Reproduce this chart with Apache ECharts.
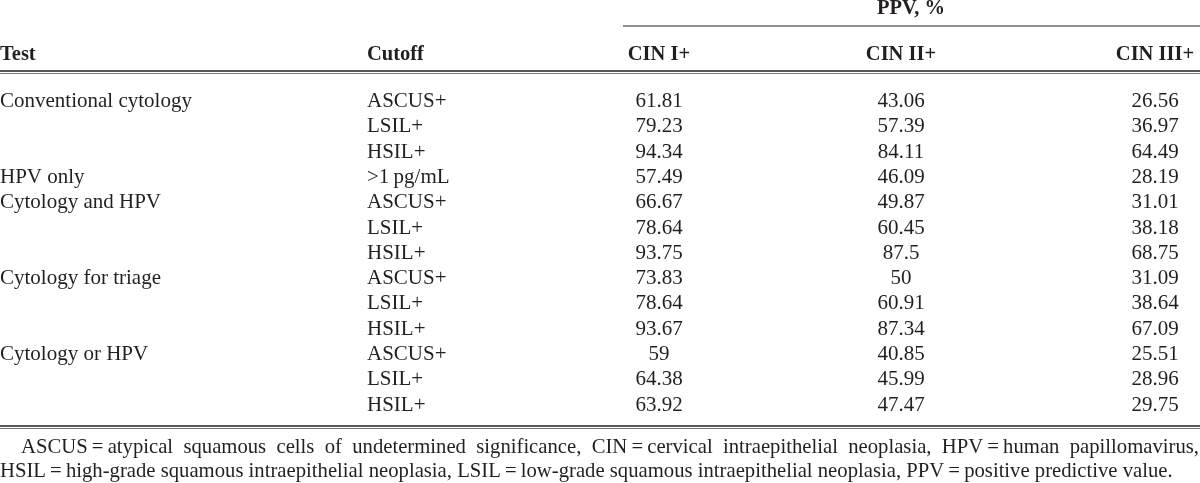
<!DOCTYPE html>
<html><head><meta charset="utf-8">
<script src="https://cdn.jsdelivr.net/npm/echarts@6/dist/echarts.min.js"></script>
<style>html,body{margin:0;padding:0;background:#fff}#c{width:1200px;height:483px}</style>
</head><body><div id="c"></div>
<script>
// ---- data ----
const tests = ['Conventional cytology','','','HPV only','Cytology and HPV','','','Cytology for triage','','','Cytology or HPV','',''];
const cutoffs = ['ASCUS+','LSIL+','HSIL+','>1\u2009pg/mL','ASCUS+','LSIL+','HSIL+','ASCUS+','LSIL+','HSIL+','ASCUS+','LSIL+','HSIL+'];
const cin1 = [61.81,79.23,94.34,57.49,66.67,78.64,93.75,73.83,78.64,93.67,59,64.38,63.92];
const cin2 = [43.06,57.39,84.11,46.09,49.87,60.45,87.5,50,60.91,87.34,40.85,45.99,47.47];
const cin3 = [26.56,36.97,64.49,28.19,31.01,38.18,68.75,31.09,38.64,67.09,25.51,28.96,29.75];
const headers = ['Test','Cutoff','CIN I+','CIN II+','CIN III+'];
const groupHeader = 'PPV, %';
const footnote1 = 'ASCUS\u2009=\u2009atypical squamous cells of undetermined significance, CIN\u2009=\u2009cervical intraepithelial neoplasia, HPV\u2009=\u2009human papillomavirus,';
const footnote2 = 'HSIL\u2009=\u2009high-grade squamous intraepithelial neoplasia, LSIL\u2009=\u2009low-grade squamous intraepithelial neoplasia, PPV\u2009=\u2009positive predictive value.';

// ---- layout / style ----
const FONT = '"Liberation Serif","Times New Roman",serif';
const BODY = '21px ' + FONT;
const BOLD = 'bold 20.5px ' + FONT;
const NOTE = '20.7px ' + FONT;
const INK = '#231f20';
const cols = [
  {x: 0, align: 'left'},
  {x: 367, align: 'left'},
  {x: 659, align: 'center'},
  {x: 901, align: 'center'},
  {x: 1155, align: 'center'}
];
const rowIdx = cutoffs.map((_, i) => i);
const columns = [tests, cutoffs, cin1.map(String), cin2.map(String), cin3.map(String)];

const chart = echarts.init(document.getElementById('c'), null, {renderer: 'canvas'});

const series = columns.map((col, ci) => ({
  type: 'custom',
  coordinateSystem: 'cartesian2d',
  data: col.map((t, i) => [cols[ci].x, i, t]),
  renderItem: (params, api) => {
    const p = api.coord([api.value(0), api.value(1)]);
    return {type: 'text', x: p[0], y: p[1],
      style: {text: col[params.dataIndex], font: BODY, fill: INK, align: cols[ci].align, verticalAlign: 'middle'}};
  },
  silent: true
}));

// justified footnote line
const cv = document.createElement('canvas').getContext('2d');
function justify(text, x0, x1, y, font) {
  cv.font = font;
  const words = text.split(' ');
  const total = words.reduce((s, w) => s + cv.measureText(w).width, 0);
  const gap = (x1 - x0 - total) / (words.length - 1);
  let x = x0; const out = [];
  words.forEach(w => {
    out.push({type: 'text', x: x, y: y, style: {text: w, font: font, fill: INK, align: 'left', verticalAlign: 'middle'}});
    x += cv.measureText(w).width + gap;
  });
  return out;
}

const hY = 55;
const graphics = [
  {type: 'text', x: 911, y: 9, style: {text: groupHeader, font: BOLD, fill: INK, align: 'center', verticalAlign: 'middle'}},
  {type: 'line', shape: {x1: 623, y1: 26, x2: 1200, y2: 26}, style: {stroke: INK, lineWidth: 1.2}},
  ...headers.map((h, i) => ({type: 'text', x: cols[i].x, y: hY, style: {text: h, font: BOLD, fill: INK, align: cols[i].align, verticalAlign: 'middle'}})),
  {type: 'line', shape: {x1: 0, y1: 71, x2: 1200, y2: 71}, style: {stroke: INK, lineWidth: 1.5}},
  {type: 'line', shape: {x1: 0, y1: 73.5, x2: 1200, y2: 73.5}, style: {stroke: '#777', lineWidth: 1}},
  {type: 'line', shape: {x1: 0, y1: 426, x2: 1200, y2: 426}, style: {stroke: INK, lineWidth: 1.5}},
  {type: 'line', shape: {x1: 0, y1: 428.5, x2: 1200, y2: 428.5}, style: {stroke: '#777', lineWidth: 1}},
  ...justify(footnote1, 21, 1199, 448, NOTE),
  {type: 'text', x: 0, y: 472, style: {text: footnote2, font: NOTE, fill: INK, align: 'left', verticalAlign: 'middle'}}
];

chart.setOption({
  animation: false,
  grid: {left: 0, right: 0, top: 88.85, height: 328.9},
  xAxis: {type: 'value', min: 0, max: 1200, show: false},
  yAxis: {type: 'category', data: rowIdx, inverse: true, show: false},
  series: series,
  graphic: graphics
});
</script></body></html>
